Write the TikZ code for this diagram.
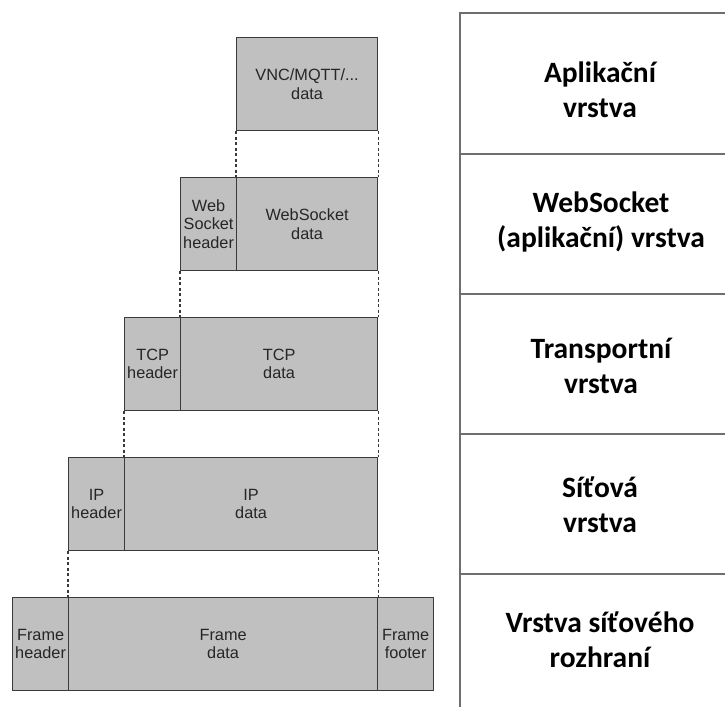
\documentclass[tikz,border=0pt]{standalone}
\usepackage{fontspec}
\setmainfont{Liberation Sans}
\newfontfamily\layerfont{Carlito}
\begin{document}
\begin{tikzpicture}[x=1pt,y=-1pt,
  cell/.style={draw=boxline,fill=boxfill,line width=1.2pt,anchor=north west,
    inner sep=0pt,minimum height=93pt,align=center,text=boxtext,
    font=\fontsize{16.3}{18.5}\selectfont},
  link/.style={draw=boxline,line width=1.1pt,dash pattern=on 3pt off 2.5pt},
  rule/.style={draw=rulecol,line width=1.8pt},
  layer/.style={align=center,font=\layerfont\bfseries\fontsize{29.5}{35}\selectfont}]
\definecolor{boxfill}{HTML}{C0C0C0}
\definecolor{boxline}{HTML}{3A3A3A}
\definecolor{boxtext}{HTML}{262626}
\definecolor{rulecol}{HTML}{6E6E6E}
\useasboundingbox (0,0) rectangle (725,707);

% packet encapsulation stack
\node[cell,minimum width=141pt] (vnc) at (236,37) {VNC/MQTT/...\\data};

\node[cell,minimum width=56pt] (wsh) at (180,177) {Web\\Socket\\header};
\node[cell,minimum width=141pt] (wsd) at (236,177) {WebSocket\\data};

\node[cell,minimum width=56pt] (tcph) at (124,317) {TCP\\header};
\node[cell,minimum width=197pt] (tcpd) at (180,317) {TCP\\data};

\node[cell,minimum width=56pt] (iph) at (68,457) {IP\\header};
\node[cell,minimum width=253pt] (ipd) at (124,457) {IP\\data};

\node[cell,minimum width=56pt] (frh) at (12,597) {Frame\\header};
\node[cell,minimum width=309pt] (frd) at (68,597) {Frame\\data};
\node[cell,minimum width=56pt] (frf) at (377,597) {Frame\\footer};

% dashed guides between consecutive layers
\draw[link] (vnc.south west) -- (wsd.north west);
\draw[link] (vnc.south east) -- (wsd.north east);
\draw[link] (wsh.south west) -- (tcpd.north west);
\draw[link] (wsd.south east) -- (tcpd.north east);
\draw[link] (tcph.south west) -- (ipd.north west);
\draw[link] (tcpd.south east) -- (ipd.north east);
\draw[link] (iph.south west) -- (frd.north west);
\draw[link] (ipd.south east) -- (frd.north east);

% layer table
\coordinate (t0) at (460,13);
\coordinate (tb) at (460,707);
\draw[rule] (t0) -- (tb);
\foreach \yy in {13,154,294,434,574} \draw[rule] (459.1,\yy) -- (725,\yy);

\node[layer] (l1) at (600,90) {Aplikační\\vrstva};
\node[layer] (l2) at (601,222) {WebSocket\\(aplikační) vrstva};
\node[layer] (l3) at (601,366) {Transportní\\vrstva};
\node[layer] (l4) at (600,505) {Síťová\\vrstva};
\node[layer] (l5) at (600,640) {Vrstva síťového\\rozhraní};
\end{tikzpicture}
\end{document}
